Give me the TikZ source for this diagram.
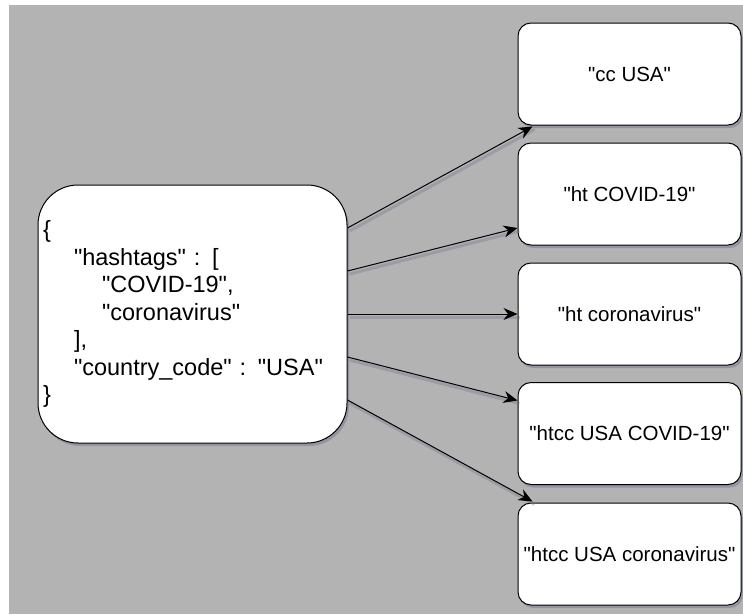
\documentclass[tikz,border=0pt]{standalone}
\usepackage{fontspec}
% plain family: straight quotes stay straight
\newfontfamily\diagfont{Liberation Sans}
\usetikzlibrary{arrows.meta,shadows,calc}

\definecolor{canvas}{RGB}{179,179,179}
\definecolor{shade}{RGB}{105,105,135}

\begin{document}
\begin{tikzpicture}[x=1pt,y=-1pt,
  boxshadow/.style={drop shadow={shadow xshift=2pt, shadow yshift=-3pt, fill=shade, opacity=0.4}},
  card/.style={draw=black, line width=1pt, fill=white, rounded corners=13pt,
    minimum width=223pt, minimum height=102pt, inner sep=0pt,
    font=\diagfont\fontsize{20.5}{25}\selectfont, boxshadow},
  jsonbox/.style={draw=black, line width=1pt, fill=white, rounded corners=40pt,
    minimum width=309pt, minimum height=258pt, inner xsep=5pt, inner ysep=0pt,
    text width=299pt, align=left, font=\diagfont\fontsize{23.5}{27.5}\selectfont, boxshadow},
  link/.style={draw=black, line width=1pt, -{Stealth[length=14pt, width=12pt, inset=4.5pt]},
    preaction={draw=shade, opacity=0.3, line width=3pt, arrows=-,
      transform canvas={xshift=2pt, yshift=-3pt}}}]

  % page and grey canvas
  \useasboundingbox (0,0) rectangle (743,614);
  \fill[canvas] (9,5) rectangle (743,614);

  % source document
  \node[jsonbox] (src) at (192.5,314) {\{\\
    \hspace*{31pt}"hashtags" : [\\
    \hspace*{59pt}"COVID-19",\\
    \hspace*{59pt}"coronavirus"\\
    \hspace*{31pt}],\\
    \hspace*{31pt}"country\_code" : "USA"\\
    \}};

  % generated keys
  \node[card] (b1) at (629.5,74)  {"cc USA"};
  \node[card] (b2) at (629.5,194) {"ht COVID-19"};
  \node[card] (b3) at (629.5,314) {"ht coronavirus"};
  \node[card] (b4) at (629.5,433.5) {"htcc USA COVID-19"};
  \node[card] (b5) at (629.5,554) {"htcc USA coronavirus"};

  % connector end points
  \coordinate (s1) at ($(src.east)+(0,-86)$);
  \coordinate (s2) at ($(src.east)+(0,-43)$);
  \coordinate (s4) at ($(src.east)+(0,43)$);
  \coordinate (s5) at ($(src.east)+(0,86)$);
  \coordinate (e1) at ($(b1.south west)+(15,1)$);
  \coordinate (e2) at ($(b2.west)+(0,34)$);
  \coordinate (e4) at ($(b4.west)+(0,-33)$);
  \coordinate (e5) at ($(b5.north west)+(15,-1)$);

  \draw[link] (s1) -- (e1);
  \draw[link] (s2) -- (e2);
  \draw[link] (src.east) -- (b3.west);
  \draw[link] (s4) -- (e4);
  \draw[link] (s5) -- (e5);
\end{tikzpicture}
\end{document}
